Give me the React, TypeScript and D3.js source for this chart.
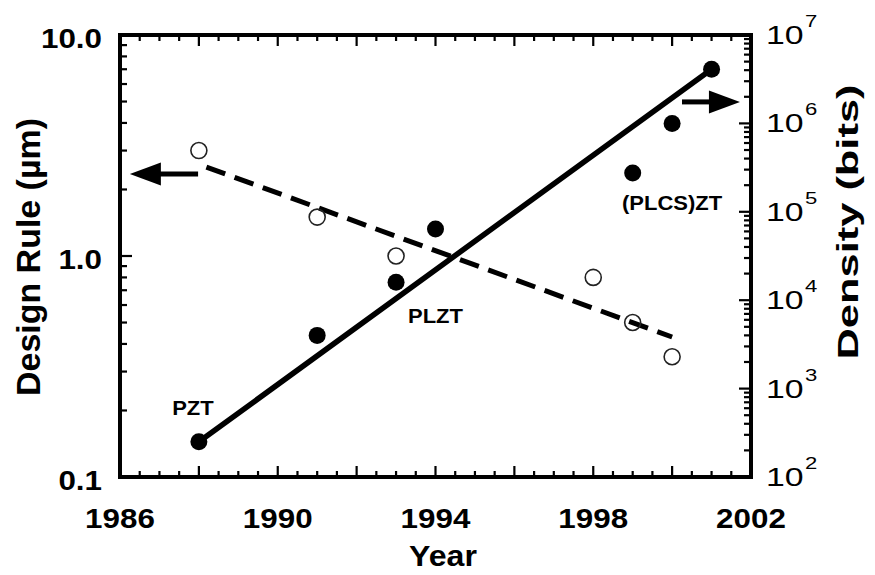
import React from 'react';
import * as d3 from 'd3';

const W = 875;
const H = 575;
const FONT = '"Liberation Sans", Arial, Helvetica, sans-serif';

// Design rule (µm), open circles, left axis
const designYears = [1988, 1991, 1993, 1998, 1999, 2000];
const designRule = [3.0, 1.5, 1.0, 0.8, 0.5, 0.35];

// Memory density (bits), filled circles, right axis
const densityYears = [1988, 1991, 1993, 1994, 1999, 2000, 2001];
const densityBits = [250, 4000, 16000, 64000, 275000, 1000000, 4100000];

// Trend lines
const densityTrendYears = [1988, 2001];
const densityTrend = [250, 4100000];
const designTrendYears = [1988, 2000];
const designTrend = [2.6, 0.43];

// Axis labels
const yearTicks = [1986, 1990, 1994, 1998, 2002];
const ruleTicks = [0.1, 1.0, 10.0];
const ruleTickLabels = ['0.1', '1.0', '10.0'];
const bitsExponents = [2, 3, 4, 5, 6, 7];

// Material labels
const materials = ['PZT', 'PLZT', '(PLCS)ZT'];

type TProps = {
  x: number;
  y: number;
  size: number;
  anchor?: 'start' | 'middle' | 'end';
  weight?: string | number;
  sx?: number;
  rotate?: number;
  children: React.ReactNode;
};

function T({ x, y, size, anchor = 'middle', weight = 'bold', sx = 1.15, rotate = 0, children }: TProps) {
  return (
    <text
      transform={`translate(${x},${y}) rotate(${rotate}) scale(${sx},1)`}
      textAnchor={anchor}
      fontFamily={FONT}
      fontSize={size}
      fontWeight={weight}
      fill="#000"
    >
      {children}
    </text>
  );
}

export default function App() {
  const left = 120;
  const right = 751;
  const top = 35;
  const bottom = 477;

  const x = d3.scaleLinear().domain([1986, 2002]).range([left, right]);
  const yRule = d3.scaleLog().domain([0.1, 10]).range([bottom, top]);
  const yBits = d3.scaleLog().domain([1e2, 1e7]).range([bottom, top]);

  const line = d3.line<[number, number]>().x((d) => d[0]).y((d) => d[1]);

  const densityPath = line(densityTrendYears.map((yr, i) => [x(yr), yBits(densityTrend[i])]))!;
  const designPath = line(designTrendYears.map((yr, i) => [x(yr), yRule(designTrend[i])]))!;

  // tick marks (all pointing into the frame)
  const xMinor = d3.range(1986, 2002.001, 0.5);
  const ruleMinor: { v: number; major: boolean }[] = [];
  [0.1, 1].forEach((dec) => {
    for (let k = 1; k <= 9; k++) ruleMinor.push({ v: k * dec, major: k === 1 });
  });
  ruleMinor.push({ v: 10, major: true });
  const bitsMinor: { v: number; major: boolean }[] = [];
  for (let e = 2; e < 7; e++) {
    for (let k = 1; k <= 9; k++) bitsMinor.push({ v: k * Math.pow(10, e), major: k === 1 });
  }
  bitsMinor.push({ v: 1e7, major: true });

  // annotation anchors in data units
  const materialAnchors: [number, number][] = [
    [1987.85, 0.19],
    [1994.0, 0.5],
    [2000.0, 1.61],
  ];

  const leftArrowY = yRule(2.35);
  const rightArrowY = yBits(1.75e6);
  const la = { tail: x(1987.98), tip: x(1986.25) };
  const ra = { tail: x(2000.25), tip: x(2001.72) };
  const headLen = 31;
  const headHalf = 11.5;

  return (
    <svg
      width={W}
      height={H}
      viewBox={`0 0 ${W} ${H}`}
      style={{ position: 'absolute', left: 0, top: 0, display: 'block', background: '#fff' }}
    >
      <rect x={0} y={0} width={W} height={H} fill="#fff" />

      {/* ticks */}
      <g stroke="#000" strokeWidth={2.2}>
        {xMinor.map((yr) => {
          const len = yr % 2 === 0 ? 11 : 6;
          return (
            <g key={`x${yr}`}>
              <line x1={x(yr)} x2={x(yr)} y1={bottom} y2={bottom - len} />
              <line x1={x(yr)} x2={x(yr)} y1={top} y2={top + len} />
            </g>
          );
        })}
        {ruleMinor.map((t, i) => (
          <line key={`r${i}`} x1={left} x2={left + (t.major ? 12 : 7)} y1={yRule(t.v)} y2={yRule(t.v)} />
        ))}
        {bitsMinor.map((t, i) => (
          <line key={`b${i}`} x1={right} x2={right - (t.major ? 12 : 7)} y1={yBits(t.v)} y2={yBits(t.v)} />
        ))}
      </g>

      {/* frame */}
      <rect x={left} y={top} width={right - left} height={bottom - top} fill="none" stroke="#000" strokeWidth={4} />

      {/* trend lines */}
      <path d={densityPath} fill="none" stroke="#000" strokeWidth={5.5} strokeLinecap="round" />
      <path
        d={designPath}
        fill="none"
        stroke="#000"
        strokeWidth={5}
        strokeDasharray="20 10"
        strokeDashoffset={22}
      />

      {/* data points */}
      {densityYears.map((yr, i) => (
        <circle key={`d${i}`} cx={x(yr)} cy={yBits(densityBits[i])} r={8.5} fill="#000" />
      ))}
      {designYears.map((yr, i) => (
        <circle key={`o${i}`} cx={x(yr)} cy={yRule(designRule[i])} r={8} fill="none" stroke="#222" strokeWidth={1.6} />
      ))}

      {/* axis arrows */}
      <line x1={la.tail} x2={la.tip + headLen - 2} y1={leftArrowY} y2={leftArrowY} stroke="#000" strokeWidth={5} />
      <path
        d={`M${la.tip},${leftArrowY} L${la.tip + headLen},${leftArrowY - headHalf} L${la.tip + headLen},${leftArrowY + headHalf} Z`}
        fill="#000"
      />
      <line x1={ra.tail} x2={ra.tip - headLen + 2} y1={rightArrowY} y2={rightArrowY} stroke="#000" strokeWidth={5} />
      <path
        d={`M${ra.tip},${rightArrowY} L${ra.tip - headLen},${rightArrowY - headHalf} L${ra.tip - headLen},${rightArrowY + headHalf} Z`}
        fill="#000"
      />

      {/* material labels */}
      {materials.map((m, i) => (
        <T key={m} x={x(materialAnchors[i][0])} y={yRule(materialAnchors[i][1])} size={20} sx={1.1}>
          {m}
        </T>
      ))}

      {/* x tick labels */}
      {yearTicks.map((yr) => (
        <T key={`yl${yr}`} x={x(yr)} y={528} size={28} sx={1.12}>
          {yr}
        </T>
      ))}

      {/* left tick labels */}
      {ruleTicks.map((v, i) => (
        <T key={`rl${v}`} x={102} y={yRule(v) + 13} size={28} anchor="end" sx={1.12}>
          {ruleTickLabels[i]}
        </T>
      ))}

      {/* right tick labels */}
      {bitsExponents.map((e) => (
        <T key={`bl${e}`} x={766} y={yBits(Math.pow(10, e)) + 9} size={26} anchor="start" weight="normal" sx={1.3}>
          10
          <tspan fontSize={17} dy={-17} dx={1}>
            {e}
          </tspan>
        </T>
      ))}

      {/* axis titles */}
      <text
        transform={`translate(40,${(top + bottom) / 2 + 1}) rotate(-90)`}
        textAnchor="middle"
        fontFamily={FONT}
        fontSize={33}
        fontWeight="bold"
        textLength={278}
        lengthAdjust="spacingAndGlyphs"
      >
        Design Rule (µm)
      </text>
      <text
        transform={`translate(858,222) rotate(-90)`}
        textAnchor="middle"
        fontFamily={FONT}
        fontSize={29}
        fontWeight="bold"
        textLength={275}
        lengthAdjust="spacingAndGlyphs"
      >
        Density (bits)
      </text>
      <T x={443} y={566} size={30} sx={1.07}>
        Year
      </T>
    </svg>
  );
}
